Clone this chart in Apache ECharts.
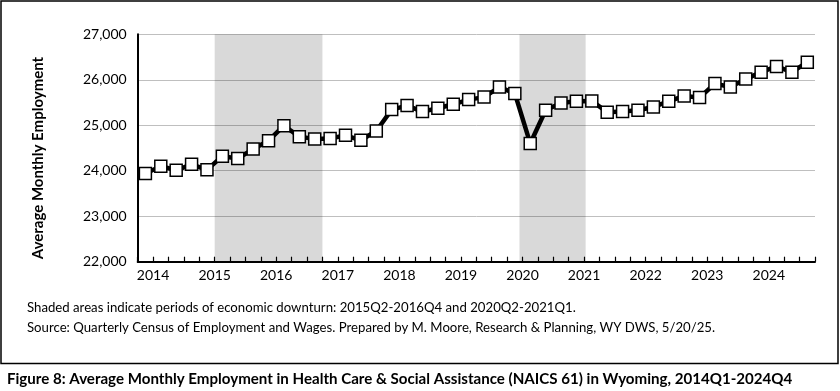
<!DOCTYPE html>
<html><head><meta charset="utf-8">
<script src="https://cdn.jsdelivr.net/npm/echarts@6/dist/echarts.min.js"></script>
<style>html,body{margin:0;padding:0;background:#fff}#c{width:840px;height:391px}</style>
</head><body><div id="c"></div>
<script>
const quarters = [];
for (let y = 2014; y <= 2024; y++) for (let q = 1; q <= 4; q++) quarters.push(y + 'Q' + q);
const employment = [23940,24100,24010,24140,24020,24320,24270,24476,24660,24990,24750,24700,
  24707,24780,24670,24875,25344,25432,25300,25374,25461,25564,25619,25839,25700,24600,
  25330,25491,25527,25535,25286,25300,25330,25403,25527,25645,25608,25916,25842,26015,
  26168,26293,26168,26388];
const yearLabels = ['2014','2015','2016','2017','2018','2019','2020','2021','2022','2023','2024'];
const yTicks = [22000,23000,24000,25000,26000,27000];
const shadeAreas = [[5, 12], [24.8, 29.1]]; // 2015Q2-2016Q4, 2020Q2-2021Q1 (in quarter units)
const yTitle = 'Average Monthly Employment';
const footnote1 = 'Shaded areas indicate periods of economic downturn: 2015Q2-2016Q4 and 2020Q2-2021Q1.';
const footnote2 = 'Source: Quarterly Census of Employment and Wages. Prepared by M. Moore, Research & Planning, WY DWS, 5/20/25.';
const caption = 'Figure 8: Average Monthly Employment in Health Care & Social Assistance (NAICS 61) in Wyoming, 2014Q1-2024Q4';

const chart = echarts.init(document.getElementById('c'));
const F = 'Lato, "Open Sans", sans-serif';
chart.setOption({
  animation: false,
  grid: {left: 137.7, right: 25, top: 34.3, bottom: 129.3},
  xAxis: {
    type: 'value', min: 0, max: quarters.length, interval: 1,
    axisLine: {lineStyle: {color: '#000', width: 2}},
    axisTick: {inside: true, length: 5, lineStyle: {color: '#000', width: 1.2}},
    splitLine: {show: false},
    axisLabel: {
      margin: 7, color: '#000', fontFamily: F, fontSize: 14,
      formatter: v => (v % 4 === 1 && v < quarters.length) ? yearLabels[(v - 1) / 4] : ''
    }
  },
  yAxis: {
    type: 'value', min: yTicks[0], max: yTicks[yTicks.length - 1], interval: 1000,
    axisLine: {show: true, lineStyle: {color: '#000', width: 2}},
    axisTick: {show: false},
    splitLine: {lineStyle: {color: '#bfbfbf', width: 1}},
    axisLabel: {margin: 11, color: '#000', fontFamily: F, fontSize: 14,
      formatter: v => v.toLocaleString('en-US')}
  },
  series: [{
    type: 'line',
    data: employment.map((v, i) => [i + 0.5, v]),
    lineStyle: {color: '#000', width: 4.5},
    symbol: 'rect', symbolSize: 12,
    itemStyle: {color: '#fff', borderColor: '#000', borderWidth: 1.5},
    z: 3,
    markArea: {
      silent: true,
      itemStyle: {color: 'rgba(0,0,0,0.15)'},
      data: shadeAreas.map(a => [{xAxis: a[0]}, {xAxis: a[1]}])
    }
  }],
  graphic: [
    {type: 'rect', shape: {x: 1, y: 1, width: 837, height: 362.5}, style: {fill: 'none', stroke: '#000', lineWidth: 1.5}, silent: true},
    {type: 'text', x: 38, y: 158, rotation: Math.PI / 2,
      style: {text: yTitle, font: 'bold 15px ' + F, fill: '#000', align: 'center', verticalAlign: 'middle'}},
    {type: 'text', left: 27, top: 301, style: {text: footnote1, font: '13.2px ' + F, fill: '#000'}},
    {type: 'text', left: 27, top: 321, style: {text: footnote2, font: '13.2px ' + F, fill: '#000'}},
    {type: 'text', left: 7, top: 372, style: {text: caption, font: 'bold 15.1px ' + F, fill: '#000'}}
  ]
});
</script></body></html>
